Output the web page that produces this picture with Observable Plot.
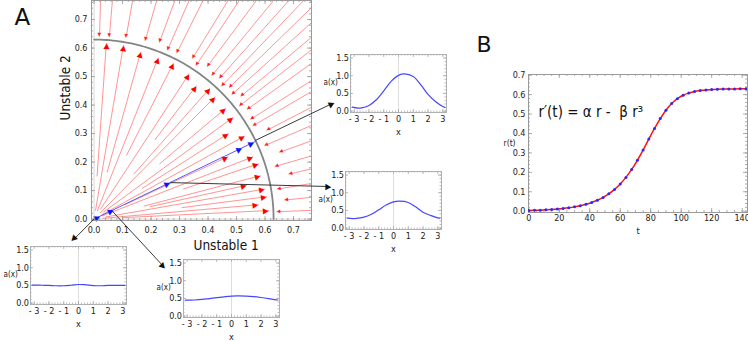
<!DOCTYPE html>
<html><head><meta charset="utf-8">
<script src="https://cdn.jsdelivr.net/npm/d3@7"></script>
<script src="https://cdn.jsdelivr.net/npm/@observablehq/plot@0.6"></script>
<style>
body{margin:0;background:#fff;}
#root{position:relative;width:748px;height:341px;overflow:hidden;font-family:"DejaVu Sans Condensed","DejaVu Sans",sans-serif;}
#root svg{position:absolute;overflow:visible;}
</style></head><body><div id="root"></div>
<script>
// ---------- Panel A: flow lines (angle in degrees, radius) ----------
const innerAngle = [2.8,5,7.4,10,12.5,14.6,18.6,21.4,25,28.9,32.5,36.2,40.1,45.3,48.5,52.5,56.8,63,68.3,74.4,80.4,86];
const innerStart = [0.10,0.03,0.31,0.04,0.20,0.18,0.33,0.03,0.12,0.03,0.20,0.04,0.30,0.03,0.21,0.35,0.04,0.25,0.03,0.17,0.03,0.15];
const innerEnd   = [0.615,0.58,0.612,0.61,0.55,0.605,0.61,0.60,0.52,0.605,0.56,0.605,0.605,0.605,0.615,0.59,0.61,0.615,0.61,0.61,0.62,0.62];
const outerAngle = [2.3,5.7,9.3,13,16.2,19.8,23.3,27.2,30.4,32.5,35.6,37.9,39.9,42.1,44.2,46.2,48.3,50.6,53.4,56.4,58.5,63.5,66.5,69.7,74,80,85.2,88.3];
const outerStart = [1.2,1.2,1.2,1.2,1.2,1.2,1.2,1.2,1.2,1.2,1.2,1.2,1.2,1.2,1.2,1.2,1.2,1.2,1.2,1.2,1.2,1.2,1.2,1.2,1.2,1.2,1.2,1.2];
const outerEnd   = [0.64,0.67,0.65,0.70,0.66,0.69,0.65,0.68,0.645,0.65,0.66,0.645,0.67,0.65,0.66,0.645,0.66,0.65,0.665,0.645,0.66,0.65,0.645,0.66,0.65,0.645,0.64,0.64];
const stableRadius = 0.63;
const blueAngle = 25.7;
const blueArrowR = [0.012,0.065,0.285,0.565,0.612];
// pointer arrows to the insets (from trajectory point to inset)
const pointerX1 = [0.0, 0.064, 0.268, 0.566];
const pointerY1 = [0.0, 0.028, 0.128, 0.276];
const pointerX2 = [-0.079, 0.25, 0.833, 0.843];
const pointerY2 = [-0.079, -0.173, 0.114, 0.409];
const axisTicksA = [0,0.1,0.2,0.3,0.4,0.5,0.6,0.7];

// ---------- Insets: a(x) ----------
const insetX  = [-3.14,-2.75,-2.5,-2,-1.5,-1,-0.5,0,0.4,1,1.5,2,2.5,3,3.14];
const inset1A = [0.51,0.51,0.505,0.50,0.49,0.49,0.505,0.525,0.52,0.495,0.49,0.50,0.50,0.50,0.50];
const inset2A = [0.45,0.45,0.455,0.47,0.495,0.52,0.545,0.565,0.57,0.565,0.55,0.525,0.495,0.46,0.455];
const inset3A = [0.11,0.085,0.09,0.16,0.32,0.57,0.84,1.01,1.05,0.98,0.75,0.47,0.27,0.13,0.105];
const inset4A = [0.283,0.27,0.272,0.308,0.39,0.516,0.652,0.74,0.76,0.724,0.6,0.45,0.36,0.29,0.28];
const insetXTicks = [-3,-2,-1,0,1,2,3];
const insetYTicks = [0,0.5,1,1.5];

// ---------- Panel B: r(t) ----------
const tB = [0,3.75,7.5,11.25,15,18.75,22.5,26.25,30,33.75,37.5,41.25,45,48.75,52.5,56.25,60,63.75,67.5,71.25,75,78.75,82.5,86.25,90,93.75,97.5,101.25,105,108.75,112.5,116.25,120,123.75,127.5,131.25,135,138.75,142.5,146.25,150];
const rB = [0.004,0.0044,0.0055,0.007,0.0088,0.0111,0.014,0.0177,0.0223,0.0282,0.0355,0.0448,0.0563,0.071,0.0893,0.112,0.14,0.174,0.215,0.262,0.315,0.371,0.426,0.477,0.52,0.554,0.579,0.597,0.608,0.616,0.621,0.6244,0.626,0.6278,0.629,0.6293,0.6296,0.6298,0.6299,0.63,0.63];
const tTicksB = [0,20,40,60,80,100,120,140];
const rTicksB = [0,0.1,0.2,0.3,0.4,0.5,0.6,0.7];

const FONT = "'DejaVu Sans Condensed', 'DejaVu Sans', sans-serif";
const root = document.getElementById("root");
function place(el, left, top){ el.style.left = left+"px"; el.style.top = top+"px"; root.appendChild(el); }
const deg = Math.PI/180;

function frameTicks(xd, yd, fw, fh, xMaj, xMin, yMaj, yMin, majL, minL, color){
  const kx = (xd[1]-xd[0])/fw, ky = (yd[1]-yd[0])/fh;
  const inX = v => v.filter(t => t >= xd[0] && t <= xd[1]);
  const inY = v => v.filter(t => t >= yd[0] && t <= yd[1]);
  const o = {stroke: color, strokeWidth: 0.8};
  return [
    Plot.ruleX(inX(xMaj), {...o, y1: yd[0], y2: yd[0]+majL*ky}),
    Plot.ruleX(inX(xMaj), {...o, y1: yd[1], y2: yd[1]-majL*ky}),
    Plot.ruleX(inX(xMin), {...o, y1: yd[0], y2: yd[0]+minL*ky}),
    Plot.ruleX(inX(xMin), {...o, y1: yd[1], y2: yd[1]-minL*ky}),
    Plot.ruleY(inY(yMaj), {...o, x1: xd[0], x2: xd[0]+majL*kx}),
    Plot.ruleY(inY(yMaj), {...o, x1: xd[1], x2: xd[1]-majL*kx}),
    Plot.ruleY(inY(yMin), {...o, x1: xd[0], x2: xd[0]+minL*kx}),
    Plot.ruleY(inY(yMin), {...o, x1: xd[1], x2: xd[1]-minL*kx})
  ];
}

// ================= Panel A main =================
(function(){
  const xd = [-0.009, 0.763], yd = [-0.005, 0.767];
  const mL = 91, mR = 149, mT = 0, mB = 121, W = 460, Hh = 341;
  const inner = innerAngle.map((a,i) => ({
    x1: innerStart[i]*Math.cos(a*deg), y1: innerStart[i]*Math.sin(a*deg),
    x2: innerEnd[i]*Math.cos(a*deg),   y2: innerEnd[i]*Math.sin(a*deg),
    hx: (innerEnd[i]-0.012)*Math.cos(a*deg), hy: (innerEnd[i]-0.012)*Math.sin(a*deg), rot: -a}));
  const outer = outerAngle.map((a,i) => ({
    x1: outerStart[i]*Math.cos(a*deg), y1: outerStart[i]*Math.sin(a*deg),
    x2: outerEnd[i]*Math.cos(a*deg),   y2: outerEnd[i]*Math.sin(a*deg),
    hx: (outerEnd[i]+0.008)*Math.cos(a*deg), hy: (outerEnd[i]+0.008)*Math.sin(a*deg), rot: 180-a}));
  const arc = d3.range(0, 90.01, 1).map(a => ({x: stableRadius*Math.cos(a*deg), y: stableRadius*Math.sin(a*deg)}));
  const blue = [{x1:0, y1:0, x2: stableRadius*Math.cos(blueAngle*deg), y2: stableRadius*Math.sin(blueAngle*deg)}];
  const blueHeads = blueArrowR.map(r => ({x: r*Math.cos(blueAngle*deg), y: r*Math.sin(blueAngle*deg), rot: -blueAngle}));
  const pointers = pointerX1.map((x,i) => {
    const dx = pointerX2[i]-x, dy = pointerY2[i]-pointerY1[i], L = Math.hypot(dx,dy);
    return {x1: x, y1: pointerY1[i], x2: pointerX2[i], y2: pointerY2[i],
      hx: pointerX2[i]-dx/L*0.011, hy: pointerY2[i]-dy/L*0.011, rot: -Math.atan2(dy,dx)/deg};
  });
  const minor = d3.range(0, 0.77, 0.02).map(v => +v.toFixed(2));
  const svg = Plot.plot({
    width: W, height: Hh, marginLeft: mL, marginRight: mR, marginTop: mT, marginBottom: mB,
    x: {domain: xd}, y: {domain: yd},
    style: {fontFamily: FONT, background: "transparent", overflow: "visible"},
    marks: [
      Plot.ruleX([0], {stroke: "#d8d8d8"}),
      Plot.ruleY([0], {stroke: "#d8d8d8"}),
      Plot.link(outer, {x1:"x1", y1:"y1", x2:"x2", y2:"y2", stroke:"#ff6060", strokeWidth:0.85, strokeOpacity:0.8, clip:true}),
      Plot.link(inner, {x1:"x1", y1:"y1", x2:"x2", y2:"y2", stroke:"#ff6060", strokeWidth:0.85, strokeOpacity:0.8, clip:true}),
      Plot.line(arc, {x:"x", y:"y", stroke:"#858585", strokeWidth:1.8}),
      Plot.link(blue, {x1:"x1", y1:"y1", x2:"x2", y2:"y2", stroke:"#5a5aff", strokeWidth:1}),
      Plot.text(outer, {x:"hx", y:"hy", rotate:"rot", text: () => "▶", fill:"#ff2020", fontSize:5, lineAnchor:"middle"}),
      Plot.text(inner, {x:"hx", y:"hy", rotate:"rot", text: () => "▶", fill:"#ff0000", fontSize:8, lineAnchor:"middle"}),
      Plot.text(blueHeads, {x:"x", y:"y", rotate:"rot", text: () => "▶", fill:"#1010ff", fontSize:8, lineAnchor:"middle"}),
      ...frameTicks(xd, yd, 220, 220, axisTicksA, minor, axisTicksA, minor, 4, 2, "#999"),
      Plot.frame({stroke: "#9a9a9a"}),
      Plot.axisX(axisTicksA, {tickSize:0, tickPadding:6, tickFormat: d3.format(".1f"), fontSize:9, fill:"#222", label:null}),
      Plot.axisY(axisTicksA, {tickSize:0, tickPadding:4, tickFormat: d3.format(".1f"), fontSize:9, fill:"#222", label:null}),
      Plot.link(pointers, {x1:"x1", y1:"y1", x2:"hx", y2:"hy", stroke:"#222", strokeWidth:0.9}),
      Plot.text(pointers, {x:"hx", y:"hy", rotate:"rot", text: () => "▶", fill:"#111", fontSize:8.5, lineAnchor:"middle"}),
      Plot.text(["Unstable 1"], {frameAnchor:"top-left", dx:102, dy:245, fontSize:13.5, fill:"#111", lineAnchor:"middle"}),
      Plot.text(["Unstable 2"], {frameAnchor:"top-left", dx:-26, dy:120, rotate:-90, fontSize:13.5, fill:"#111", lineAnchor:"middle"}),
      Plot.text(["A"], {frameAnchor:"top-left", dx:-77, dy:17, fontSize:23, fill:"#111", lineAnchor:"middle", fontFamily:"DejaVu Sans"})
    ]
  });
  place(svg, 0, 0);
})();

// ================= Insets =================
function inset(ys, fl, ft){
  const fw = 96, fh = 58, mL = 34, mR = 4, mT = 4, mB = 32;
  const xd = [-3.25, 3.25], yd = [-0.04, 1.6];
  const data = insetX.map((x,i) => ({x, a: ys[i]}));
  const fmt = d => d < 0 ? "- " + (-d) : String(d);
  const svg = Plot.plot({
    width: fw+mL+mR, height: fh+mT+mB, marginLeft: mL, marginRight: mR, marginTop: mT, marginBottom: mB,
    x: {domain: xd}, y: {domain: yd},
    style: {fontFamily: FONT, background: "transparent", overflow: "visible"},
    marks: [
      Plot.ruleX([0], {stroke: "#dddddd"}),
      ...frameTicks(xd, yd, fw, fh, insetXTicks, d3.range(-3.2, 3.21, 0.2).map(v=>+v.toFixed(1)), insetYTicks, d3.range(0, 1.61, 0.1).map(v=>+v.toFixed(1)), 3, 1.5, "#aaa"),
      Plot.frame({stroke: "#b0b0b0"}),
      Plot.axisX(insetXTicks, {tickSize:0, tickPadding:3, tickFormat: fmt, fontSize:9, fill:"#222", label:null}),
      Plot.axisY(insetYTicks, {tickSize:0, tickPadding:1.5, tickFormat: d3.format(".1f"), fontSize:9, fill:"#222", label:null}),
      Plot.line(data, {x:"x", y:"a", stroke:"#4646ff", strokeWidth:1.2, curve:"catmull-rom"}),
      Plot.text(["a(x)"], {frameAnchor:"left", dx:-27, dy:-1, fontSize:8, fill:"#222"}),
      Plot.text(["x"], {frameAnchor:"bottom", dy:22, fontSize:9, fill:"#222"})
    ]
  });
  place(svg, fl - mL, ft - mT);
}
inset(inset1A, 30, 246);
inset(inset2A, 183, 259);
inset(inset3A, 350, 54);
inset(inset4A, 345, 171);

// ================= Panel B =================
(function(){
  const xd = [-0.2, 143.5], yd = [-0.0067, 0.7036];
  const mL = 58, mR = 1, mT = 24, mB = 38, W = 278, Hh = 200;
  const data = tB.map((t,i) => ({t, r: rB[i]}));
  const svg = Plot.plot({
    width: W, height: Hh, marginLeft: mL, marginRight: mR, marginTop: mT, marginBottom: mB,
    x: {domain: xd}, y: {domain: yd},
    style: {fontFamily: FONT, background: "transparent", overflow: "visible"},
    marks: [
      ...frameTicks(xd, yd, 219, 138, tTicksB, d3.range(0, 145, 5), rTicksB, d3.range(0, 0.71, 0.02).map(v=>+v.toFixed(2)), 4, 2, "#999"),
      Plot.frame({stroke: "#9a9a9a"}),
      Plot.axisX(tTicksB, {tickSize:0, tickPadding:2, fontSize:9, fill:"#222", label:null}),
      Plot.axisY(rTicksB, {tickSize:0, tickPadding:3, tickFormat: d3.format(".1f"), fontSize:9, fill:"#222", label:null}),
      Plot.line(data, {x:"t", y:"r", stroke:"#ff1010", strokeWidth:1.5, curve:"catmull-rom", clip:true}),
      Plot.dot(data, {x:"t", y:"r", r:1.5, fill:"#2a2aff", clip:true}),
      Plot.text(["r′(t) = α r -  β r³"], {frameAnchor:"top-left", dx:10, dy:38, textAnchor:"start", fontSize:15, fill:"#111", lineAnchor:"middle"}),
      Plot.text(["r(t)"], {frameAnchor:"left", dx:-25, fontSize:8.5, fill:"#222"}),
      Plot.text(["t"], {frameAnchor:"bottom", dy:21, fontSize:9, fill:"#222"}),
      Plot.text(["B"], {frameAnchor:"top-left", dx:-52, dy:-30, fontSize:22, fill:"#111", lineAnchor:"middle", fontFamily:"DejaVu Sans"})
    ]
  });
  place(svg, 470, 50);
})();
</script></body></html>
